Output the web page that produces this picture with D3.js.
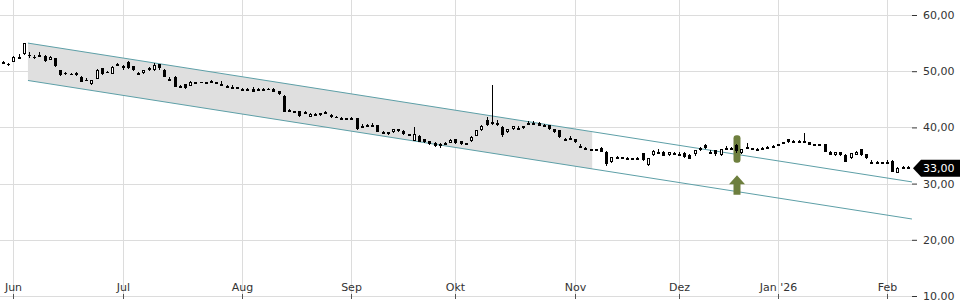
<!DOCTYPE html>
<html>
<head>
<meta charset="utf-8">
<script src="https://cdn.jsdelivr.net/npm/d3@7"></script>
<style>
  body { margin: 0; background: #fff; }
  svg { display: block; font-family: "DejaVu Sans", sans-serif; }
</style>
</head>
<body>
<div id="chart"></div>
<script>
// daily candles, one per trading day (index 0 = end of May 2025)
const open = [51.7,51.3,51.7,52.5,53.0,52.8,52.6,52.9,52.7,52.1,52.3,50.2,49.6,49.5,49.6,49.0,48.4,47.7,48.7,50.5,
  49.9,49.6,51.2,50.7,51.6,50.9,49.7,49.6,50.2,50.2,51.2,50.3,48.6,49.0,47.4,47.7,47.4,48.0,48.0,48.0,
  48.2,48.0,47.8,47.4,47.2,47.1,46.6,46.6,46.9,46.8,46.9,46.9,46.9,46.4,45.6,43.1,42.9,42.9,42.8,41.9,
  42.3,42.1,42.8,42.2,41.9,41.6,41.6,41.6,41.6,40.25,40.5,40.5,40.4,39.2,39.1,39.1,39.7,39.4,38.8,37.6,
  38.5,37.9,37.5,37.3,36.7,37.3,37.3,37.9,37.5,37.2,37.5,38.5,39.5,41.3,40.6,40.4,40.1,39.1,39.7,39.9,
  39.9,40.7,40.8,40.8,40.5,40.4,39.7,39.5,38.0,38.2,37.9,36.75,36.4,36.15,36.1,36.4,35.7,33.8,34.7,34.7,
  34.5,34.5,34.5,35.4,33.3,35.0,35.7,35.7,35.0,35.5,35.3,35.5,35.1,35.1,35.9,36.9,35.6,35.9,35.1,36.3,
  36.3,36.9,35.3,36.6,36.3,36.2,36.3,36.6,36.7,37.05,37.35,37.9,37.6,37.6,37.6,37.35,37.0,37.0,37.05,35.7,
  35.0,35.6,35.1,34.5,35.2,36.1,35.2,33.9,33.9,33.8,33.8,34.1,31.9,33.0,32.95];
const close = [51.4,51.1,52.6,52.6,55.0,52.7,52.5,52.9,51.8,52.6,50.8,49.3,49.55,49.45,49.2,48.1,48.35,48.4,50.3,49.4,
  49.85,50.8,51.2,51.0,50.5,50.1,49.7,50.2,50.6,51.1,50.4,49.0,48.6,47.2,47.4,47.0,48.1,48.0,47.95,48.0,
  48.2,48.0,47.8,47.4,47.2,47.1,46.9,46.9,46.4,46.8,46.9,46.85,46.4,45.9,42.8,43.1,42.9,42.0,42.8,42.4,
  42.3,42.5,42.4,41.8,41.85,41.6,41.6,41.6,39.7,40.25,40.5,40.5,39.2,39.2,39.1,39.7,39.3,38.8,38.8,38.9,
  37.5,37.3,36.9,36.7,37.1,37.3,37.8,37.2,36.9,37.2,38.3,39.5,40.2,40.4,41.0,40.8,38.6,39.7,40.2,39.9,
  40.2,40.7,40.8,40.25,40.1,39.7,39.1,38.2,38.0,38.2,37.3,36.75,36.4,36.15,36.1,35.7,33.6,34.7,34.7,34.7,
  34.5,34.5,34.5,34.2,34.5,35.8,35.7,35.0,35.6,35.5,35.3,34.7,34.4,35.9,36.3,36.3,35.6,35.1,36.1,36.3,
  36.3,35.8,36.1,36.6,36.3,36.2,36.3,36.6,36.7,37.05,37.35,37.35,37.6,37.6,37.6,36.9,37.0,37.0,35.7,35.2,
  35.6,35.0,33.9,35.4,35.7,35.0,34.4,33.9,33.9,33.8,33.8,32.1,32.8,33.0,33.0];
const high = [51.8,51.5,52.7,53.0,55.1,53.4,52.8,53.4,52.8,52.7,52.4,50.3,49.8,49.7,49.9,49.1,48.8,48.5,50.4,50.6,
  50.0,50.9,51.5,51.1,51.8,51.0,49.9,50.3,50.7,51.4,51.3,50.4,48.9,49.1,47.6,47.8,48.2,48.1,48.1,48.1,
  48.5,48.1,48.2,47.6,47.5,47.2,47.0,47.0,47.1,47.0,47.0,47.0,47.0,46.5,45.7,43.2,43.0,43.0,43.0,42.5,
  42.6,42.6,42.9,42.3,42.0,41.9,41.7,41.9,41.7,40.6,40.6,40.7,40.5,39.3,39.2,39.8,39.8,39.5,38.9,40.1,
  38.6,38.0,37.6,37.4,37.2,37.4,37.9,38.0,37.6,37.3,38.4,39.6,40.4,41.9,47.5,41.3,40.2,39.8,40.3,40.2,
  40.3,41.1,41.2,41.0,40.6,40.5,39.8,39.6,38.2,38.4,38.0,37.0,36.5,36.2,36.2,36.6,35.8,34.8,35.0,34.8,
  34.8,34.6,34.8,35.5,34.6,35.9,36.1,35.8,35.7,35.6,35.6,35.6,35.2,36.0,36.6,37.0,35.9,36.0,36.2,36.7,
  36.5,37.0,36.2,37.2,36.4,36.4,36.5,36.7,36.8,37.1,37.4,38.0,37.7,37.7,39.05,37.4,37.1,37.1,37.1,35.8,
  35.7,35.7,35.2,35.5,35.8,36.2,35.3,34.2,34.0,33.9,34.2,34.2,32.9,33.2,33.1];
const low = [51.3,51.0,51.6,52.4,52.9,52.4,52.2,52.7,51.7,52.0,50.7,49.2,49.4,49.3,49.1,48.0,48.3,47.6,48.6,49.3,
  49.7,49.5,51.1,50.3,50.4,50.0,49.6,49.5,50.1,50.1,50.3,48.9,48.3,47.1,47.1,46.9,47.3,47.9,47.9,47.9,
  48.1,47.9,47.7,47.3,47.1,46.8,46.5,46.5,46.3,46.6,46.8,46.8,46.3,45.8,42.7,42.8,42.8,41.9,42.6,41.8,
  42.2,42.0,42.3,41.7,41.8,41.5,41.5,41.5,39.6,40.2,40.4,40.4,39.1,38.9,38.6,39.0,39.2,38.7,38.4,37.5,
  37.4,37.2,36.8,36.6,36.4,37.2,37.2,37.1,36.8,37.1,37.4,38.4,39.4,40.3,40.5,40.3,38.3,39.0,39.6,39.6,
  39.8,40.4,40.5,40.2,40.0,39.6,39.0,38.1,37.8,38.0,37.2,36.6,36.3,36.0,36.0,35.6,33.1,33.7,34.6,34.6,
  34.3,34.4,34.3,34.1,33.2,34.9,35.6,34.9,34.9,35.4,35.2,34.6,34.3,35.0,35.8,36.2,35.3,35.0,35.0,36.2,
  36.1,35.5,35.2,36.5,36.2,36.0,36.1,36.5,36.6,36.9,37.0,37.2,37.5,37.5,37.3,36.8,36.9,36.9,35.6,35.1,
  34.9,34.9,33.8,34.4,35.1,34.9,34.3,33.8,33.8,33.7,33.7,32.0,31.8,32.9,32.9];

// month ticks (index of first trading day in month)
const monthIdx = [2, 23, 46, 67, 87, 110, 130, 149, 170];
const monthLabels = ["Jun", "Jul", "Aug", "Sep", "Okt", "Nov", "Dez", "Jan '26", "Feb"];
const priceTicks = [10, 20, 30, 40, 50, 60];

// trend channel (index, price)
const chanIdx = [4.8, 174.8];
const chanUpper = [55.0, 30.3];
const chanLower = [48.35, 23.7];
const shadeEndIdx = 113.3;

// signal
const signalIdx = 141;
const signalBar = [38.6, 33.7];
const arrowPrices = [31.5, 28.0];
const lastPrice = 33.0;

const w = 960, h = 300;
const plotRight = 912;

const svg = d3.select("#chart").append("svg")
  .attr("width", w).attr("height", h);

const x = d3.scaleLinear().domain([0, 174]).range([3, 907.8]);
const y = d3.scaleLinear().domain([10, 60]).range([296, 15]);
const fmt = d => d3.format(".2f")(d).replace(".", ",");

// grid
svg.append("g").selectAll("line").data(priceTicks.filter(d => d > 10)).join("line")
  .attr("x1", 0).attr("x2", plotRight)
  .attr("y1", d => Math.round(y(d)) + 0.5).attr("y2", d => Math.round(y(d)) + 0.5)
  .attr("stroke", "#dcdcdc");
svg.append("g").selectAll("line").data(monthIdx).join("line")
  .attr("x1", d => Math.round(x(d)) + 0.5).attr("x2", d => Math.round(x(d)) + 0.5)
  .attr("y1", 0).attr("y2", 296)
  .attr("stroke", "#dcdcdc");

// channel
const lineAt = (vals, i) => vals[0] + (vals[1] - vals[0]) * (i - chanIdx[0]) / (chanIdx[1] - chanIdx[0]);
const shade = [
  [chanIdx[0], chanUpper[0]], [shadeEndIdx, lineAt(chanUpper, shadeEndIdx)],
  [shadeEndIdx, lineAt(chanLower, shadeEndIdx)], [chanIdx[0], chanLower[0]]
];
svg.append("path")
  .attr("d", d3.line().x(d => x(d[0])).y(d => y(d[1]))(shade) + "Z")
  .attr("fill", "#dfdfdf");
[chanUpper, chanLower].forEach(vals => {
  svg.append("line")
    .attr("x1", x(chanIdx[0])).attr("y1", y(vals[0]))
    .attr("x2", x(chanIdx[1])).attr("y2", y(vals[1]))
    .attr("stroke", "#5d9fa7").attr("stroke-width", 1);
});

// signal highlight
svg.append("rect")
  .attr("x", Math.round(x(signalIdx)) - 2.5).attr("width", 7)
  .attr("y", y(signalBar[0])).attr("height", y(signalBar[1]) - y(signalBar[0]))
  .attr("rx", 3).attr("fill", "#6e7f3e");

// candles
const idx = d3.range(open.length);
const cg = svg.append("g");
cg.selectAll("line").data(idx).join("line")
  .attr("x1", i => Math.round(x(i)) + 0.5).attr("x2", i => Math.round(x(i)) + 0.5)
  .attr("y1", i => Math.round(y(high[i]))).attr("y2", i => Math.round(y(low[i])))
  .attr("stroke", "#000");
cg.selectAll("rect").data(idx).join("rect")
  .attr("x", i => close[i] >= open[i] ? Math.round(x(i)) - 0.5 : Math.round(x(i)) - 1)
  .attr("width", i => close[i] >= open[i] ? 2 : 3)
  .attr("y", i => {
    const t = Math.round(y(Math.max(open[i], close[i])));
    return close[i] >= open[i] ? t + 0.5 : t;
  })
  .attr("height", i => {
    const hh = Math.max(1, Math.round(y(Math.min(open[i], close[i])) - y(Math.max(open[i], close[i]))));
    return close[i] >= open[i] ? Math.max(1, hh - 1) : hh;
  })
  .attr("fill", i => close[i] >= open[i] ? "#fff" : "#000")
  .attr("stroke", i => close[i] >= open[i] ? "#000" : "none");

// arrow
const ax = Math.round(x(signalIdx)) + 1;
const at = y(arrowPrices[0]), ab = y(arrowPrices[1]);
svg.append("path")
  .attr("d", `M${ax},${at} L${ax + 8},${at + 9} L${ax + 3.5},${at + 9} L${ax + 3.5},${ab} L${ax - 3.5},${ab} L${ax - 3.5},${at + 9} L${ax - 8},${at + 9} Z`)
  .attr("fill", "#6e7f3e");

// x axis
const xAxis = svg.append("g")
  .attr("transform", "translate(0,296)");
xAxis.append("line").attr("x1", 0).attr("x2", plotRight).attr("y1", 0.5).attr("y2", 0.5)
  .attr("stroke", "#dcdcdc");
xAxis.selectAll("line.tk").data(monthIdx).join("line").attr("class", "tk")
  .attr("x1", d => Math.round(x(d)) + 0.5).attr("x2", d => Math.round(x(d)) + 0.5)
  .attr("y1", -2).attr("y2", 3).attr("stroke", "#555");
xAxis.selectAll("text").data(monthIdx).join("text")
  .attr("x", d => Math.round(x(d)) + 0.5).attr("y", -5)
  .attr("text-anchor", "middle").attr("font-size", 11).attr("fill", "#333")
  .text((d, i) => monthLabels[i]);

// y axis (right)
const yAxis = svg.append("g")
  .attr("transform", `translate(${plotRight},0)`)
  .call(d3.axisRight(y).tickValues(priceTicks).tickFormat(fmt).tickSize(5).tickPadding(6));
yAxis.select(".domain").remove();
yAxis.selectAll("line").attr("stroke", "#333");
yAxis.selectAll("text").attr("font-size", 11).attr("fill", "#333")
  .attr("font-family", "DejaVu Sans, sans-serif");

// last price tag
const ly = y(lastPrice) + 1.5;
svg.append("path")
  .attr("d", `M${plotRight + 1},${ly} L${plotRight + 9},${ly - 8.5} L${w},${ly - 8.5} L${w},${ly + 8.5} L${plotRight + 9},${ly + 8.5} Z`)
  .attr("fill", "#000");
svg.append("text")
  .attr("x", plotRight + 11).attr("y", ly).attr("dy", "0.35em")
  .attr("font-size", 11).attr("fill", "#fff")
  .text(fmt(lastPrice));
</script>
</body>
</html>
